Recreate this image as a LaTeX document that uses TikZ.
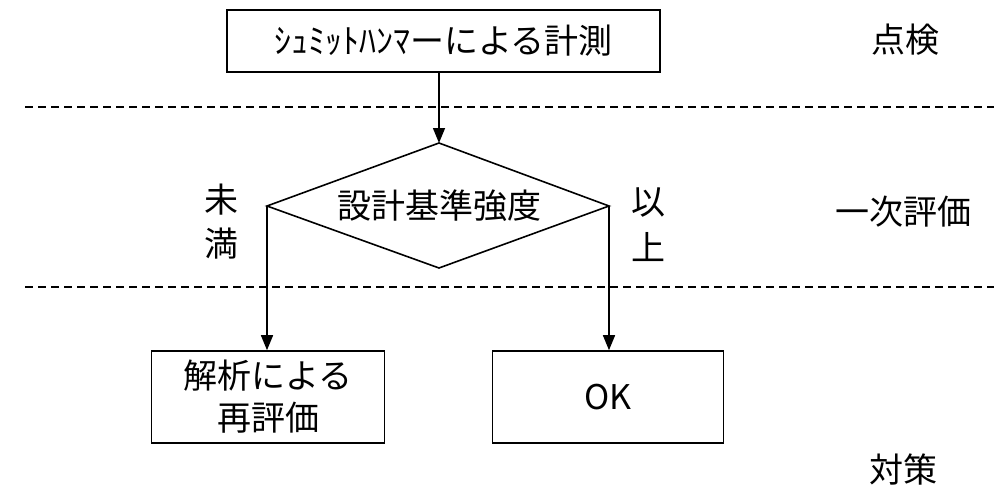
\documentclass[tikz,border=0pt]{standalone}
\usepackage{fontspec}
\setmainfont{Noto Sans CJK JP}
\usetikzlibrary{arrows.meta}
\begin{document}
\begin{tikzpicture}[x=1pt,y=-1pt,
  every node/.style={font=\fontsize{34}{42}\selectfont, inner sep=0pt},
  box/.style={draw, line width=1.6pt, align=center},
  conn/.style={line width=1.5pt, -{Triangle[length=15pt,width=12pt]}},
  sep/.style={line width=1.8pt, dash pattern=on 8pt off 5pt}]
\useasboundingbox (0,0) rectangle (994,487);
% separators
\coordinate (s1a) at (25,107); \coordinate (s1b) at (994,107);
\coordinate (s2a) at (25,287); \coordinate (s2b) at (994,287);
\draw[sep] (s1a) -- (s1b);
\draw[sep] (s2a) -- (s2b);
% top box
\node[box, minimum width=433pt, minimum height=62pt] (top) at (443.5,41) {ｼｭﾐｯﾄﾊﾝﾏーによる計測};
% diamond
\coordinate (dT) at (439,143);
\coordinate (dL) at (267,206);
\coordinate (dR) at (609,206);
\coordinate (dB) at (439,268);
\draw[line width=1.6pt, line join=miter] (dT) -- (dR) -- (dB) -- (dL) -- cycle;
\node (dtext) at (439,206) {設計基準強度};
% bottom boxes
\node[box, minimum width=233pt, minimum height=92pt] (re) at (268,397) {解析による\\再評価};
\node[box, minimum width=231pt, minimum height=92pt] (ok) at (608,397) {OK};
% connectors
\draw[conn] (top.south -| dT) -- (dT);
\draw[conn] (dL) -- (dL |- re.north);
\draw[conn] (dR) -- (dR |- ok.north);
% branch labels
\node (mi) at (221,200) {未};
\node (man) at (221,244) {満};
\node (i) at (648,202) {以};
\node (jo) at (648,247) {上};
% phase labels
\node (p1) at (905,40) {点検};
\node (p2) at (903,212) {一次評価};
\node (p3) at (903,470) {対策};
\end{tikzpicture}
\end{document}
